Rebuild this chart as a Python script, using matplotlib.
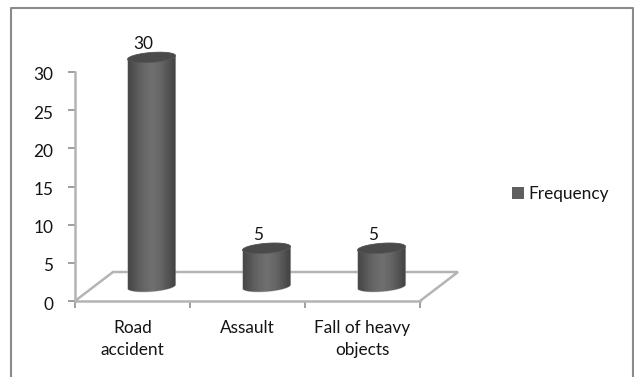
import numpy as np
from matplotlib import pyplot as plt
from matplotlib.patches import Polygon, Rectangle
from matplotlib.lines import Line2D
from matplotlib.transforms import ScaledTranslation

plt.rcParams["font.family"] = ["Lato", "DejaVu Sans"]

categories = ["Road\naccident", "Assault", "Fall of heavy\nobjects"]
frequency = [30, 5, 5]
y_ticks = [0, 5, 10, 15, 20, 25, 30]
series_name = "Frequency"

W, H = 634, 377
AXIS_GREY = "#b4b4b4"
FRAME_GREY = "#8a8a8a"
TEXT = "#141414"
FONT_SIZE = 12.4

# pseudo-3D geometry, in data units
DEPTH_X = 38 / 115
DEPTH_Y = 29 / (229 / 30)
RADIUS = 24 / 115
ELL_B = 5 / (229 / 30)
ELL_TILT = 1.8 / (229 / 30)

fig = plt.figure(figsize=(W / 100, H / 100), dpi=100)
ax = fig.add_axes([75 / W, 1 - 301 / H, 345 / W, 229 / H])
x = np.arange(len(categories))

# outer chart frame, open at the bottom
frame = Line2D([11 / W, 11 / W, 633 / W, 633 / W], [0, 1 - 7.5 / H, 1 - 7.5 / H, 0],
               transform=fig.transFigure, color=FRAME_GREY, lw=1.5)
fig.add_artist(frame)

# floor of the plot
floor_x = [0, DEPTH_X, 3 + DEPTH_X, 3]
floor_y = [0, DEPTH_Y, DEPTH_Y, 0]
ax.plot(floor_x, floor_y, color=AXIS_GREY, lw=1.8, clip_on=False, zorder=1,
        solid_joinstyle="miter")

# gradient across the cylinder body, dark at the edges
shade = np.array([0.29, 0.32, 0.36, 0.39, 0.41, 0.43, 0.43, 0.41, 0.39, 0.35, 0.31, 0.27])
shade = shade[np.newaxis, :]


def draw_cylinder(i, value):
    cx = i + 0.5 + DEPTH_X / 2
    base = DEPTH_Y / 2
    t = np.linspace(0, 2 * np.pi, 90)
    ex = RADIUS * np.cos(t)
    ey = ELL_B * np.sin(t) + ELL_TILT * np.cos(t)

    t_low = np.linspace(np.pi, 2 * np.pi, 45)
    low_x = cx + RADIUS * np.cos(t_low)
    low_y = base + ELL_B * np.sin(t_low) + ELL_TILT * np.cos(t_low)
    t_up = np.linspace(0, np.pi, 45)
    up_x = cx + RADIUS * np.cos(t_up)
    up_y = base + value + ELL_B * np.sin(t_up) + ELL_TILT * np.cos(t_up)
    outline = np.column_stack([np.r_[low_x, up_x], np.r_[low_y, up_y]])

    body = Polygon(outline, closed=True, transform=ax.transData, fc="none", ec="none")
    ax.add_patch(body)
    im = ax.imshow(shade, cmap="gray", vmin=0, vmax=1, aspect="auto", zorder=3,
                   extent=[cx - RADIUS, cx + RADIUS, base - 1, base + value + 1],
                   interpolation="bilinear")
    # the top of the tallest cylinder rises above the axes box
    im.set_clip_box(fig.bbox)
    im.set_clip_path(body)
    ax.add_patch(Polygon(outline, closed=True, fc="none", ec="#a0a0a0", lw=0.8,
                         alpha=0.5, zorder=2, clip_on=False))
    ax.add_patch(Polygon(np.column_stack([cx + ex, base + value + ey]), closed=True,
                         fc="#4a4a4a", ec="#5a5a5a", lw=0.5, zorder=4, clip_on=False))
    ax.text(cx - 8 / 115, base + value + 0.75, str(value), ha="center", va="bottom",
            fontsize=FONT_SIZE, color=TEXT, zorder=5)


for i, value in zip(x, frequency):
    draw_cylinder(i, value)

ax.set_xlim(0, 3)
ax.set_ylim(0, 30)
ax.patch.set_visible(False)
for side in ["top", "right"]:
    ax.spines[side].set_visible(False)
for side in ["left", "bottom"]:
    ax.spines[side].set_color(AXIS_GREY)
    ax.spines[side].set_linewidth(1.8)

ax.set_yticks(y_ticks)
ax.set_xticks(np.arange(4))
ax.set_xticklabels([])
ax.set_xticks(x + 0.5, categories, minor=True)
ax.tick_params(axis="y", length=5, width=1.2, color="#8f8f8f", labelsize=FONT_SIZE,
               labelcolor=TEXT, pad=10.5)
ax.tick_params(axis="x", which="major", length=5, width=1.2, color="#8f8f8f")
ax.tick_params(axis="x", which="minor", length=0, labelsize=FONT_SIZE, labelcolor=TEXT, pad=13.5)
for label in ax.get_xticklabels(minor=True):
    label.set_linespacing(1.45)

# y labels sit a little below their ticks
nudge = ScaledTranslation(0, -2 / 100, fig.dpi_scale_trans)
for label in ax.get_yticklabels():
    label.set_transform(label.get_transform() + nudge)

handle = Rectangle((0, 0), 1, 1, fc="#5f5f5f", ec="none")
fig.legend([handle], [series_name], loc="center left", bbox_to_anchor=(507 / W, 1 - 194 / H),
           frameon=False, fontsize=FONT_SIZE, labelcolor=TEXT, handlelength=0.7,
           handleheight=0.7, handletextpad=0.25, borderpad=0.3, borderaxespad=0)

fig.savefig("out.png", dpi=100)
